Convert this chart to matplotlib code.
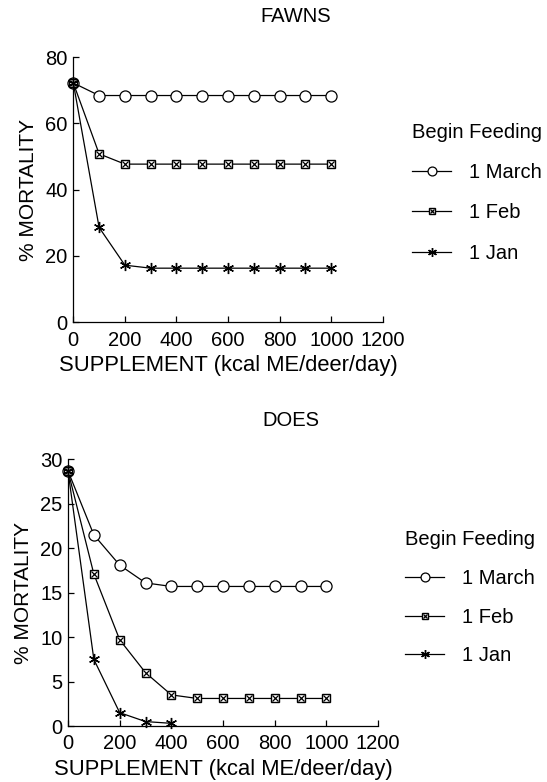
import numpy as np
import matplotlib
matplotlib.use("Agg")
import matplotlib.pyplot as plt
from matplotlib.legend_handler import HandlerTuple

plt.rcParams['font.family'] = ['Liberation Sans', 'DejaVu Sans']

# ---------- data ----------
supplement = [0, 100, 200, 300, 400, 500, 600, 700, 800, 900, 1000]

fawn_march = [72.2, 68.4, 68.4, 68.4, 68.4, 68.4, 68.4, 68.4, 68.4, 68.4, 68.4]
fawn_feb = [72.2, 50.8, 47.7, 47.7, 47.7, 47.7, 47.7, 47.7, 47.7, 47.7, 47.7]
fawn_jan = [72.2, 28.6, 17.2, 16.3, 16.3, 16.3, 16.3, 16.3, 16.3, 16.3, 16.3]

doe_march = [28.7, 21.5, 18.1, 16.1, 15.7, 15.7, 15.7, 15.7, 15.7, 15.7, 15.7]
doe_feb = [28.7, 17.1, 9.7, 6.0, 3.5, 3.1, 3.1, 3.1, 3.1, 3.1, 3.1]
supplement_jan_does = [0, 100, 200, 300, 400]
doe_jan = [28.7, 7.5, 1.5, 0.5, 0.3]

legend_labels = ['1 March', '1 Feb', '1 Jan']
xticks = [0, 200, 400, 600, 800, 1000, 1200]
fawn_yticks = [0, 20, 40, 60, 80]
doe_yticks = [0, 5, 10, 15, 20, 25, 30]

FS = 14.5
LW = 0.9
ASTER = (6, 2, 0)

fig = plt.figure(figsize=(5.47, 7.82), dpi=100)


def draw_panel(ax, x_m, y_m, x_f, y_f, x_j, y_j, ylim, yticks):
    (l_m,) = ax.plot(x_m, y_m, color='black', lw=LW, marker='o', ms=8,
                     mfc='white', mec='black', mew=0.9, clip_on=False)
    (l_f,) = ax.plot(x_f, y_f, color='black', lw=LW, marker='s', ms=5.5,
                     mfc='white', mec='black', mew=1.0, clip_on=False)
    (l_fx,) = ax.plot(x_f, y_f, ls='none', marker='x', ms=4, mec='black',
                      mew=0.9, clip_on=False)
    (l_j,) = ax.plot(x_j, y_j, color='black', lw=LW, marker=ASTER, ms=8,
                     mec='black', mew=1.0, clip_on=False)
    ax.set_xlim(0, 1200)
    ax.set_ylim(*ylim)
    ax.set_xticks(xticks)
    ax.set_yticks(yticks)
    ax.spines['top'].set_visible(False)
    ax.spines['right'].set_visible(False)
    for s in ('left', 'bottom'):
        ax.spines[s].set_linewidth(0.9)
    ax.tick_params(direction='in', length=4, width=0.9, labelsize=FS)
    ax.tick_params(axis='x', pad=6)
    ax.tick_params(axis='y', pad=4)
    ax.set_xlabel('SUPPLEMENT (kcal ME/deer/day)', fontsize=15.8, labelpad=4)
    ax.set_ylabel('% MORTALITY', fontsize=15, labelpad=5)
    return [l_m, (l_f, l_fx), l_j]


def add_legend(handles, x, y, spacing):
    fig.legend(handles, legend_labels, title='Begin Feeding', loc='upper left',
               bbox_to_anchor=(x / 547, 1 - y / 782), frameon=False,
               fontsize=FS, title_fontsize=FS, alignment='left',
               handlelength=1.95, handletextpad=0.85, labelspacing=spacing,
               markerscale=0.8,
               handler_map={tuple: HandlerTuple(ndivide=1)})


# ---------- FAWNS ----------
ax1 = fig.add_axes([0.134, 0.588, 0.566, 0.339])
h1 = draw_panel(ax1, supplement, fawn_march, supplement, fawn_feb,
                supplement, fawn_jan, (0, 80), fawn_yticks)
fig.text(0.541, 1 - 17 / 782, 'FAWNS', ha='center', va='center', fontsize=FS)
add_legend(h1, 394, 105, 1.05)

# ---------- DOES ----------
ax2 = fig.add_axes([0.1243, 0.0716, 0.567, 0.341])
h2 = draw_panel(ax2, supplement, doe_march, supplement, doe_feb,
                supplement_jan_does, doe_jan, (0, 30), doe_yticks)
fig.text(0.532, 1 - 421 / 782, 'DOES', ha='center', va='center', fontsize=FS)
add_legend(h2, 387, 512, 0.98)

fig.savefig('out.png', dpi=100)
